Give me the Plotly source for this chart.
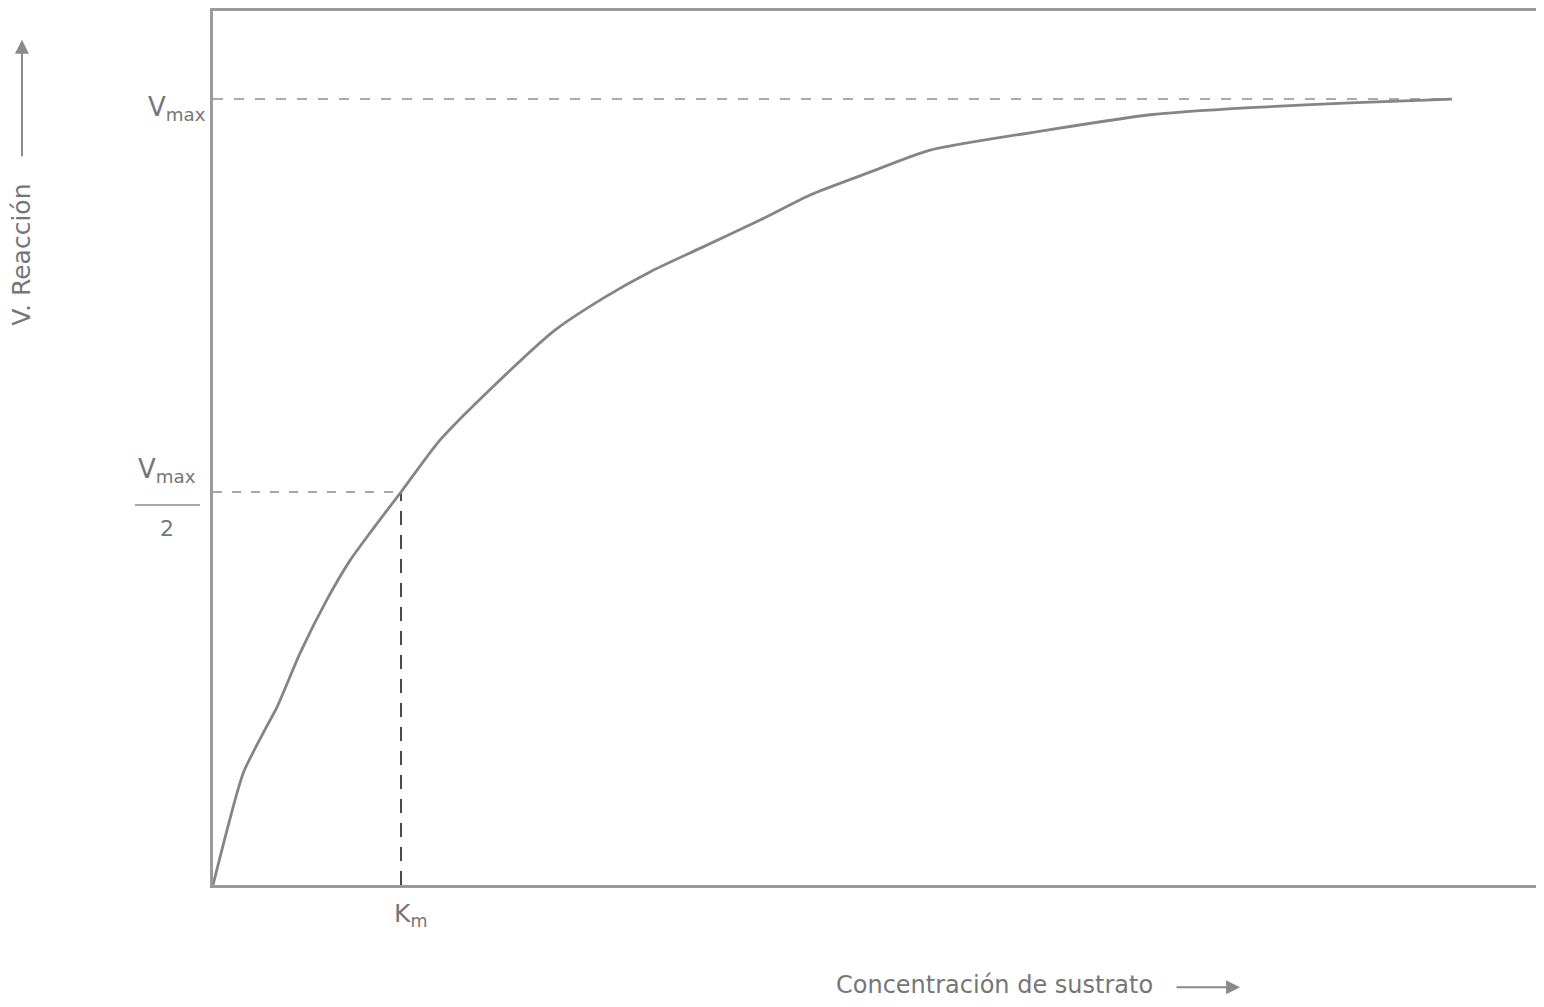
import plotly.graph_objects as go

# ---- data (x in units of Km, y in units of Vmax) ----
substrate = [0.0, 0.160, 0.266, 0.340, 0.463, 0.606, 0.729, 0.835, 1.0,
             1.207, 1.489, 1.819, 2.085, 2.324, 2.590, 2.910, 3.176, 3.495,
             3.814, 4.452, 4.984, 5.516, 6.048, 6.590]
velocity = [0.0, 0.142, 0.193, 0.226, 0.295, 0.363, 0.413, 0.448, 0.500,
            0.566, 0.634, 0.706, 0.748, 0.780, 0.810, 0.846, 0.878, 0.907,
            0.935, 0.961, 0.980, 0.989, 0.995, 1.000]
vmax = 1.0
km = 1.0
vmax_line_end = 6.59
x_range = [0, 7.037]
y_range = [0, 1.112]

x_title = "Concentración de sustrato"
y_title = "V. Reacción"

FONT = "DejaVu Sans"
TXT = "#767676"
LINE = "#858585"

fig = go.Figure()

# Vmax asymptote
fig.add_trace(go.Scatter(x=[0, vmax_line_end], y=[vmax, vmax], mode="lines",
                         line=dict(color="#8f8f8f", width=1.6, dash="10px,11px"),
                         hoverinfo="skip", showlegend=False))
# Vmax/2 horizontal
fig.add_trace(go.Scatter(x=[0, km], y=[vmax / 2, vmax / 2], mode="lines",
                         line=dict(color="#8a8a8a", width=1.6, dash="9px,10px"),
                         hoverinfo="skip", showlegend=False))
# Km vertical
fig.add_trace(go.Scatter(x=[km, km], y=[0, vmax / 2], mode="lines",
                         line=dict(color="#1e1e1e", width=1.6, dash="14px,10px"),
                         hoverinfo="skip", showlegend=False))
# curve
fig.add_trace(go.Scatter(x=substrate, y=velocity, mode="lines",
                         line=dict(color=LINE, width=2.8, shape="spline", smoothing=0.6),
                         hoverinfo="skip", showlegend=False))

axis_common = dict(showgrid=False, zeroline=False, showticklabels=False,
                   ticks="", fixedrange=True)
fig.update_xaxes(range=x_range, showline=True, linecolor="#9a9a9a", linewidth=3,
                 mirror=True, **axis_common)
fig.update_yaxes(range=y_range, showline=True, linecolor="#9a9a9a", linewidth=3,
                 mirror=False, **axis_common)

ann = []
# Vmax label
ann.append(dict(x=0, xref="x", y=vmax, yref="y", xanchor="right", yanchor="middle",
                xshift=-5, yshift=-9, text="V<sub>max</sub>", showarrow=False,
                font=dict(family=FONT, size=26, color=TXT)))
# Vmax/2 label
ann.append(dict(x=0, xref="x", y=vmax / 2, yref="y", xanchor="center", yanchor="bottom",
                xshift=-46, yshift=3, text="V<sub>max</sub>", showarrow=False,
                font=dict(family=FONT, size=26, color=TXT)))
ann.append(dict(x=0, xref="x", y=vmax / 2, yref="y", xanchor="center", yanchor="top",
                xshift=-46, yshift=-22, text="2", showarrow=False,
                font=dict(family=FONT, size=22, color=TXT)))
# Km label
ann.append(dict(x=km, xref="x", y=0, yref="y", xanchor="center", yanchor="top",
                xshift=9, yshift=-12, text="K<sub>m</sub>", showarrow=False,
                font=dict(family=FONT, size=25, color=TXT)))
# axis titles
ann.append(dict(x=0.591, xref="paper", y=-0.114, yref="paper", xanchor="center",
                yanchor="middle", text=x_title, showarrow=False,
                font=dict(family=FONT, size=24, color=TXT)))
ann.append(dict(x=-0.1444, xref="paper", y=0.721, yref="paper", xanchor="center",
                yanchor="middle", text=y_title, showarrow=False, textangle=-90,
                font=dict(family=FONT, size=25, color=TXT)))
# arrows
ann.append(dict(x=0.7763, xref="paper", y=-0.117, yref="paper", ax=-65, ay=0,
                axref="pixel", ayref="pixel", text="", showarrow=True,
                arrowhead=2, arrowsize=1.4, arrowwidth=2, arrowcolor="#8a8a8a"))
ann.append(dict(x=-0.1444, xref="paper", y=0.967, yref="paper", ax=0, ay=118,
                axref="pixel", ayref="pixel", text="", showarrow=True,
                arrowhead=2, arrowsize=1.4, arrowwidth=2, arrowcolor="#8a8a8a"))

fig.update_layout(
    annotations=ann,
    shapes=[dict(type="line", xref="paper", yref="y",
                 x0=-0.059, x1=-0.0098,
                 y0=vmax / 2 - 0.0165, y1=vmax / 2 - 0.0165,
                 line=dict(color="#8a8a8a", width=1.6))],
    width=1528, height=991,
    margin=dict(l=205, r=0, t=3, b=114),
    plot_bgcolor="white", paper_bgcolor="white",
    showlegend=False,
)

fig.write_html("out.html")
